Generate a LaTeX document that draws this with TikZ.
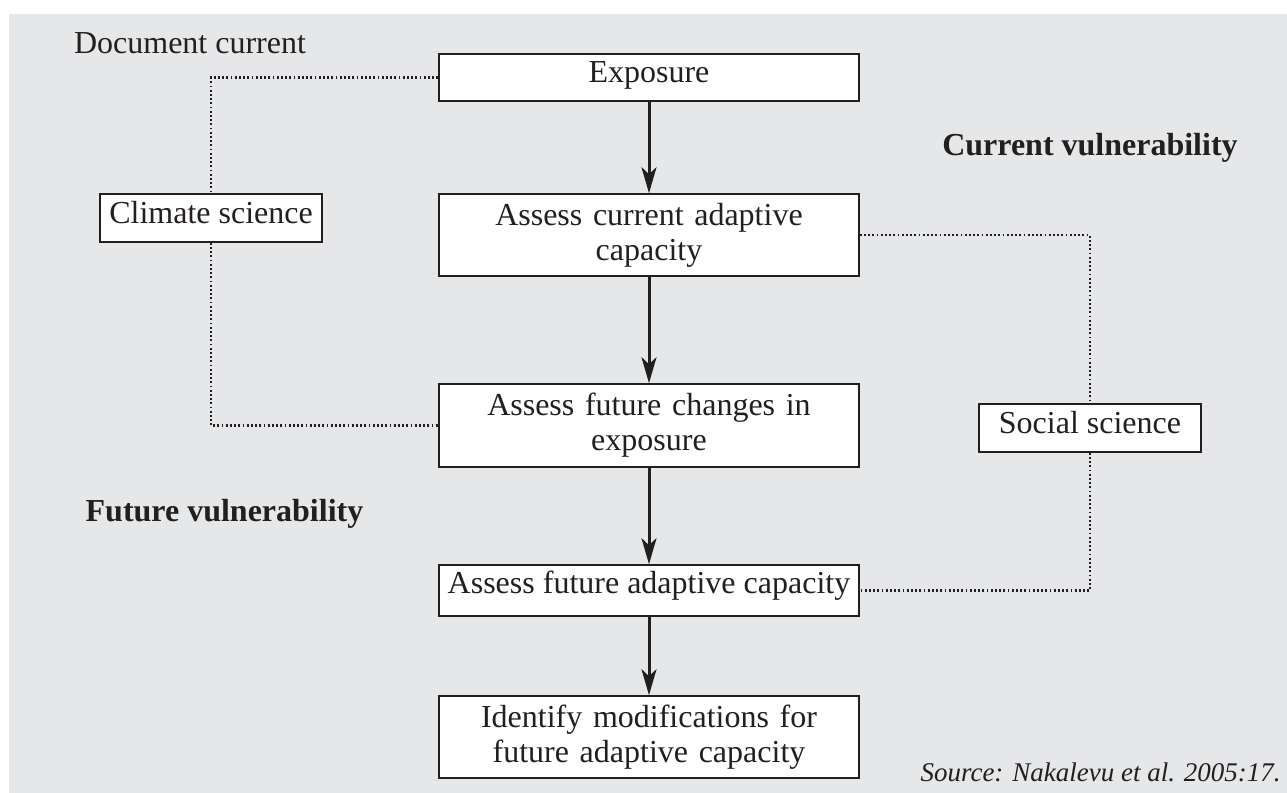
\documentclass[tikz,border=0pt]{standalone}
\usepackage{fontspec}
\usepackage{graphicx}
\setmainfont{Liberation Serif}
\usetikzlibrary{arrows.meta}
\definecolor{bg}{RGB}{230,231,232}
\definecolor{ink}{RGB}{35,31,32}
\begin{document}
\begin{tikzpicture}[x=0.5pt,y=-0.5pt,
  font=\fontsize{16}{17.5}\selectfont, text=ink,
  box/.style={draw=ink, fill=white, line width=0.8pt, inner sep=0pt},
  onebox/.style={box, text height=14pt, text depth=9.5pt, minimum width=210pt},
  twobox/.style={box, text width=210pt, align=center, minimum height=41pt},
  sidebox/.style={box, text height=14.5pt, text depth=9.5pt, minimum width=111pt},
  flow/.style={draw=ink, line width=1.5pt, -{Stealth[length=13pt,width=7.5pt,inset=3.5pt]}},
  link/.style={draw=ink, line width=1.1pt, dash pattern=on 0.9pt off 1.2pt},
  lab/.style={inner sep=0pt, anchor=base},
]
\useasboundingbox (0,0) rectangle (1287,793);
\fill[bg] (9,14) rectangle (1287,793);

\node[onebox] (exp) at (649,77.5) {Exposure};
\node[twobox] (cur) at (649,235) {Assess current adaptive\\capacity};
\node[twobox, minimum height=41.5pt] (fch) at (649,425.5) {Assess future changes in\\exposure};
\node[onebox, text depth=11.5pt] (fad) at (649,590.5) {Assess future adaptive capacity};
\node[twobox] (idm) at (649,737) {Identify modifications for\\future adaptive capacity};

\node[sidebox] (clim) at (211,218) {Climate science};
\node[sidebox] (soc) at (1090,428) {Social science};

\draw[flow] (exp) -- (cur);
\draw[flow] (cur) -- (fch);
\draw[flow] (fch) -- (fad);
\draw[flow] (fad) -- (idm);

\draw[link] (exp.west) -| (clim.north);
\draw[link] (clim.south) |- (fch.west);
\draw[link] (cur.east) -| (soc.north);
\draw[link] (soc.south) |- (fad.east);

\node[lab] (doc) at (190,53) {Document current};
\node[lab] (curv) at (1090,155) {\bfseries Current vulnerability};
\node[lab] (futv) at (224.5,521) {\bfseries Future vulnerability};
\node[inner sep=0pt, anchor=base east] (src) at (1281,781) {\resizebox{180pt}{!}{\itshape Source: Nakalevu et al. 2005:17.}};
\end{tikzpicture}
\end{document}
